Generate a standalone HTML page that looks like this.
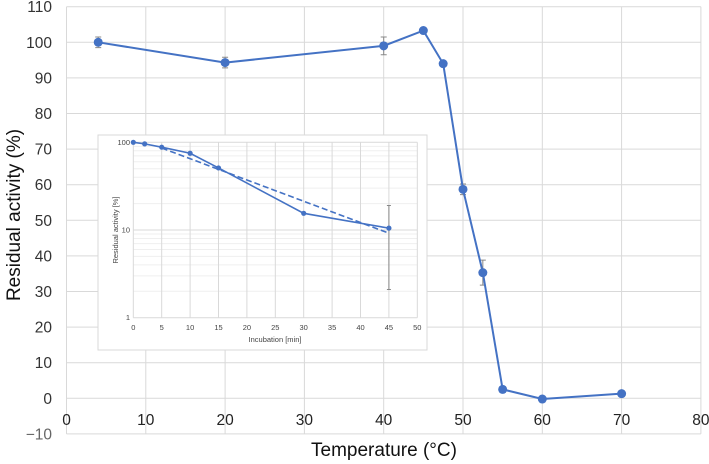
<!DOCTYPE html>
<html><head><meta charset="utf-8"><style>
body{margin:0;background:#fff;}
svg{display:block;font-family:"Liberation Sans","DejaVu Sans",sans-serif;}
</style></head><body>
<svg id="c" width="709" height="464" viewBox="0 0 709 464"></svg>
<script>
const temps=[4,20,40,45,47.5,50,52.5,55,60,70];
const activity=[100,94.3,99,103.3,94,58.7,35.3,2.5,-0.2,1.3];
const activityErr=[1.5,1.5,2.5,0.5,0.5,1.5,3.5,0.8,0.5,0.8];
const xTicks=[0,10,20,30,40,50,60,70,80];
const yTicks=[-10,0,10,20,30,40,50,60,70,80,90,100,110];
const incTimes=[0,2,5,10,15,30,45];
const incActivity=[100,96,88,75,51,15.5,10.5];
const fitTimes=[5,45];
const fitActivity=[86,9.2];
const incErrLow=[2.1];
const incErrHigh=[19];
const incXTicks=[0,5,10,15,20,25,30,35,40,45,50];
const incYTicks=[1,10,100];

const svg=document.getElementById('c');
const NS='http://www.w3.org/2000/svg';
function mk(t,a,p){const e=document.createElementNS(NS,t);for(const k in a)e.setAttribute(k,a[k]);(p||svg).appendChild(e);return e;}
const X=v=>66.5+v*7.93;
const Y=v=>398.3-v*3.56;
// gridlines
for(const t of yTicks){const g=mk('line',{x1:X(0),x2:X(80),y1:Y(t),y2:Y(t),stroke:'#d9d9d9','stroke-width':1});

const l=mk('text',{x:52,y:Y(t)+5.5,'text-anchor':'end','font-size':15.5,fill:t<0?'#666':'#333'});l.textContent=t<0?'\u221210':t;
}
for(const t of xTicks){const g=mk('line',{x1:X(t),x2:X(t),y1:Y(110),y2:Y(-10),stroke:'#d9d9d9','stroke-width':1});

const l=mk('text',{x:X(t),y:425,'text-anchor':'middle','font-size':15.5,fill:'#222'});l.textContent=t;
}
const yt=mk('text',{x:0,y:0,transform:'translate(20,215) rotate(-90)','text-anchor':'middle','font-size':19,fill:'#111'});yt.textContent='Residual activity (%)';

const xt=mk('text',{x:384,y:456,'text-anchor':'middle','font-size':19,fill:'#111'});xt.textContent='Temperature (\u00b0C)';

// main series
const blue='#4472c4';
temps.forEach((t,i)=>{const e=mk('path',{d:`M${X(t)-3},${Y(activity[i]+activityErr[i])}h6M${X(t)},${Y(activity[i]+activityErr[i])}V${Y(activity[i]-activityErr[i])}M${X(t)-3},${Y(activity[i]-activityErr[i])}h6`,stroke:'#888','stroke-width':1,fill:'none'});
});
const ml=mk('polyline',{points:temps.map((t,i)=>X(t)+','+Y(activity[i])).join(' '),fill:'none',stroke:blue,'stroke-width':2});

temps.forEach((t,i)=>{const c=mk('circle',{cx:X(t),cy:Y(activity[i]),r:4.5,fill:blue});
});
// inset
const ins=mk('g',{});

const bx=mk('rect',{x:98,y:135,width:329,height:215,fill:'#fff',stroke:'#d9d9d9'},ins);

const IX=v=>133.3+v*5.68;
const IY=v=>317.7-Math.log10(v)*87.7;
for(let d=1;d<100;d*=10)for(let m=2;m<10;m++){const g=mk('line',{x1:IX(0),x2:IX(50),y1:IY(d*m),y2:IY(d*m),stroke:'#efefef'},ins);
}
for(const t of incYTicks){const g=mk('line',{x1:IX(0),x2:IX(50),y1:IY(t),y2:IY(t),stroke:'#d9d9d9'},ins);

const l=mk('text',{x:130,y:IY(t)+2.5,'text-anchor':'end','font-size':7.5,fill:'#444'},ins);l.textContent=t;
}
for(const t of incXTicks){const g=mk('line',{x1:IX(t),x2:IX(t),y1:IY(100),y2:IY(1),stroke:'#d9d9d9'},ins);

const l=mk('text',{x:IX(t),y:330,'text-anchor':'middle','font-size':7.5,fill:'#444'},ins);l.textContent=t;
}
const it=mk('text',{x:0,y:0,transform:'translate(118,230) rotate(-90)','text-anchor':'middle','font-size':7.5,fill:'#444'},ins);it.textContent='Residual activity [%]';

const ixt=mk('text',{x:275,y:342,'text-anchor':'middle','font-size':7.5,fill:'#444'},ins);ixt.textContent='Incubation [min]';

const eb=mk('path',{d:`M${IX(45)-2},${IY(incErrHigh[0])}h4M${IX(45)},${IY(incErrHigh[0])}V${IY(incErrLow[0])}M${IX(45)-2},${IY(incErrLow[0])}h4`,stroke:'#888',fill:'none'},ins);

const fl=mk('polyline',{points:fitTimes.map((t,i)=>IX(t)+','+IY(fitActivity[i])).join(' '),fill:'none',stroke:blue,'stroke-width':1.6,'stroke-dasharray':'6,3'},ins);

const il=mk('polyline',{points:incTimes.map((t,i)=>IX(t)+','+IY(incActivity[i])).join(' '),fill:'none',stroke:blue,'stroke-width':1.6},ins);

incTimes.forEach((t,i)=>{const c=mk('circle',{cx:IX(t),cy:IY(incActivity[i]),r:2.6,fill:blue},ins);
});
</script>
</body></html>
